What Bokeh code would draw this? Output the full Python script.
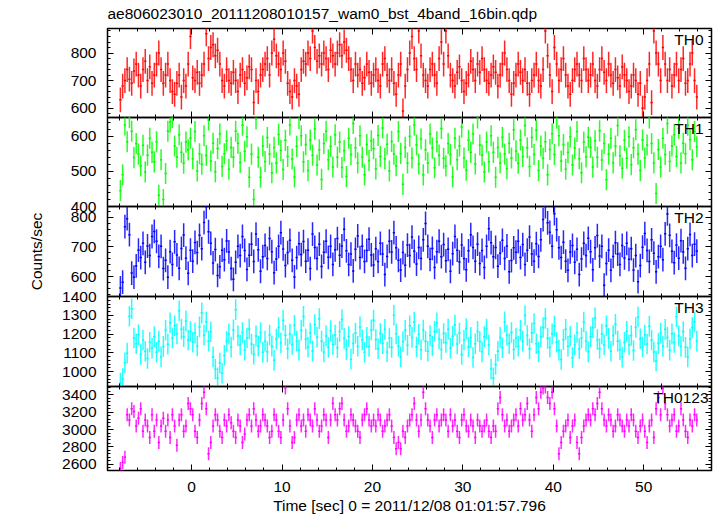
import numpy as np
from bokeh.plotting import figure
from bokeh.layouts import column
from bokeh.models import (LinearAxis, SingleIntervalTicker, Range1d, Label,
                          ColumnDataSource, CustomLabelingPolicy)
from bokeh.embed import file_html
from bokeh.resources import INLINE

title_text = "ae806023010_20111208010157_wam0_bst_4band_16bin.qdp"
x_label = "Time [sec] 0 = 2011/12/08 01:01:57.796"
y_label = "Counts/sec"
band_names = ["TH0", "TH1", "TH2", "TH3", "TH0123"]

t_start = -8.0      # start of first bin [s]
bin_width = 0.25    # bin width [s]

th0 = [
    630, 680, 700, 740, 705, 690, 735, 760, 720, 680, 740, 770, 700, 750, 690, 720,
    760, 800, 740, 690, 720, 760, 700, 660, 650, 690, 720, 640, 700, 680, 760, 860,
    710, 700, 730, 690, 720, 760, 870, 780, 820, 830, 790, 810, 760, 700, 680, 740,
    700, 690, 730, 700, 660, 720, 740, 690, 710, 750, 740, 620, 700, 660, 720, 740,
    760, 780, 720, 800, 850, 790, 760, 740, 800, 770, 690, 660, 640, 700, 680, 650,
    740, 770, 760, 800, 780, 880, 820, 770, 790, 760, 800, 780, 740, 810, 790, 760,
    800, 830, 790, 840, 810, 780, 740, 700, 760, 720, 740, 690, 710, 760, 730, 690,
    720, 740, 700, 680, 760, 780, 720, 700, 740, 690, 650, 720, 760, 590, 680, 740,
    800, 860, 780, 740, 880, 790, 720, 700, 680, 740, 760, 720, 690, 780, 840, 760,
    880, 790, 720, 700, 680, 730, 750, 700, 660, 690, 720, 770, 740, 700, 760, 730,
    780, 740, 700, 690, 720, 750, 730, 680, 720, 760, 800, 740, 700, 650, 690, 720,
    760, 730, 700, 740, 690, 650, 700, 720, 760, 700, 680, 740, 880, 790, 720, 660,
    820, 760, 700, 740, 780, 720, 680, 650, 700, 740, 760, 720, 700, 780, 740, 700,
    720, 760, 700, 680, 740, 780, 730, 700, 760, 720, 690, 740, 710, 680, 750, 720,
    700, 660, 680, 720, 700, 650, 690, 600, 640, 700, 760, 620, 880, 800, 760, 700,
    820, 760, 700, 740, 680, 720, 760, 700, 740, 780, 690, 700, 760, 800, 700, 640,
]
th1 = [
    445, 490, 632, 584, 653, 614, 539, 579, 549, 515, 574, 498, 546, 594, 554, 527,
    584, 432, 533, 420, 494, 614, 640, 653, 572, 540, 604, 554, 523, 583, 561, 594,
    536, 613, 501, 550, 520, 601, 545, 646, 529, 580, 499, 565, 606, 514, 550, 587,
    506, 568, 540, 614, 580, 525, 631, 557, 598, 483, 549, 420, 649, 540, 483, 572,
    528, 596, 549, 496, 568, 524, 605, 559, 505, 588, 542, 632, 535, 484, 571, 650,
    601, 527, 576, 502, 589, 546, 620, 518, 561, 477, 579, 614, 533, 571, 512, 604,
    540, 583, 511, 559, 485, 594, 548, 636, 567, 524, 601, 540, 490, 576, 531, 587,
    564, 507, 602, 542, 623, 536, 577, 501, 585, 549, 516, 613, 551, 463, 568, 524,
    600, 538, 632, 575, 521, 592, 490, 561, 524, 606, 566, 510, 584, 546, 622, 537,
    515, 579, 548, 484, 594, 533, 572, 626, 538, 503, 588, 554, 606, 521, 652, 575,
    546, 498, 583, 527, 601, 554, 483, 568, 524, 597, 549, 507, 580, 538, 618, 558,
    523, 589, 542, 630, 567, 514, 596, 548, 617, 502, 572, 537, 584, 490, 562, 607,
    548, 651, 601, 529, 576, 506, 554, 598, 518, 566, 613, 536, 496, 583, 541, 597,
    568, 512, 587, 540, 615, 532, 579, 476, 549, 594, 524, 572, 630, 544, 509, 588,
    537, 598, 519, 567, 618, 549, 502, 589, 538, 575, 652, 579, 524, 437, 562, 512,
    594, 548, 636, 528, 572, 604, 542, 622, 524, 580, 550, 631, 590, 533, 613, 570,
]
th2 = [
    562, 581, 768, 795, 741, 612, 598, 636, 689, 664, 712, 648, 703, 671, 735, 752,
    719, 668, 702, 627, 655, 598, 684, 641, 717, 673, 628, 695, 740, 662, 611, 689,
    652, 715, 681, 739, 694, 782, 835, 751, 712, 646, 691, 604, 633, 689, 657, 720,
    683, 627, 591, 648, 702, 671, 735, 688, 624, 672, 709, 651, 743, 690, 618, 667,
    705, 661, 728, 684, 613, 659, 702, 748, 693, 637, 681, 722, 655, 599, 664, 711,
    674, 718, 652, 689, 627, 743, 698, 661, 709, 634, 682, 719, 665, 702, 641, 690,
    728, 672, 703, 759, 687, 641, 676, 619, 692, 737, 664, 702, 651, 688, 726, 673,
    639, 694, 651, 712, 676, 607, 668, 719, 683, 748, 697, 655, 622, 681, 638, 706,
    671, 733, 685, 642, 698, 661, 724, 779, 702, 658, 695, 631, 684, 719, 667, 708,
    653, 692, 618, 677, 735, 689, 649, 706, 661, 623, 687, 741, 698, 652, 709, 644,
    688, 631, 702, 761, 714, 667, 698, 635, 679, 722, 661, 703, 616, 654, 697, 682,
    719, 664, 708, 641, 689, 733, 676, 652, 711, 668, 724, 792, 836, 781, 749, 702,
    812, 758, 697, 664, 716, 652, 621, 683, 705, 648, 692, 607, 659, 712, 671, 729,
    684, 623, 697, 738, 669, 702, 571, 644, 689, 621, 668, 714, 676, 641, 705, 663,
    712, 658, 694, 622, 671, 583, 637, 699, 745, 688, 651, 724, 679, 616, 667, 702,
    657, 744, 811, 739, 685, 647, 706, 662, 721, 683, 628, 694, 742, 671, 709, 686,
]
th3 = [
    938, 962, 1047, 1098, 1295, 1335, 1179, 1148, 1196, 1091, 1168, 1108, 1070, 1156, 1125, 1186,
    1103, 1162, 1078, 1134, 1220, 1146, 1260, 1179, 1244, 1201, 1324, 1226, 1186, 1270, 1168, 1214,
    1156, 1205, 1136, 1238, 1313, 1194, 1265, 1162, 1212, 1078, 1012, 966, 1045, 991, 1086, 1161,
    1201, 1130, 1222, 1330, 1190, 1142, 1208, 1114, 1179, 1227, 1147, 1092, 1190, 1135, 1208, 1103,
    1162, 1105, 1195, 1135, 1060, 1173, 1235, 1153, 1273, 1194, 1121, 1200, 1144, 1247, 1162, 1114,
    1220, 1294, 1173, 1130, 1205, 1109, 1251, 1183, 1282, 1162, 1104, 1190, 1129, 1218, 1144, 1195,
    1127, 1214, 1277, 1177, 1117, 1187, 1066, 1149, 1205, 1135, 1238, 1169, 1103, 1183, 1134, 1222,
    1273, 1170, 1122, 1203, 1149, 1225, 1104, 1179, 1129, 1300, 1201, 1135, 1078, 1160, 1220, 1140,
    1244, 1182, 1264, 1131, 1199, 1116, 1221, 1161, 1108, 1192, 1136, 1214, 1260, 1174, 1118, 1203,
    1155, 1226, 1125, 1188, 1248, 1147, 1205, 1091, 1168, 1229, 1131, 1182, 1075, 1148, 1214, 1160,
    1105, 1186, 1227, 1142, 1013, 966, 1038, 1108, 1182, 1127, 1265, 1194, 1149, 1208, 1118, 1179,
    1135, 1220, 1162, 1299, 1192, 1121, 1207, 1256, 1148, 1104, 1186, 1235, 1283, 1177, 1130, 1201,
    1242, 1156, 1114, 1064, 1170, 1225, 1135, 1188, 1074, 1142, 1208, 1122, 1179, 1264, 1162, 1105,
    1186, 1233, 1286, 1170, 1123, 1200, 1142, 1244, 1177, 1108, 1192, 1252, 1162, 1117, 1077, 1156,
    1214, 1142, 1192, 1112, 1235, 1291, 1175, 1131, 1195, 1147, 1242, 1168, 1104, 1056, 1149, 1205,
    1135, 1225, 1182, 1114, 1201, 1155, 1292, 1190, 1134, 1213, 1129, 1078, 1174, 1235, 1264, 1162,
]
th0123 = [
    2550, 2620, 2680, 3170, 3110, 3240, 3210, 3040, 3130, 3240, 2980, 3110, 3040, 2910, 3170, 2980,
    3110, 2850, 3040, 3130, 2980, 3110, 2910, 3170, 3040, 2820, 3110, 3170, 2980, 3040, 3300, 3240,
    3170, 2980, 2910, 3110, 3300, 3430, 3240, 2720, 2850, 3040, 3170, 3110, 2980, 2910, 3110, 3040,
    3170, 3080, 2980, 2910, 3110, 3040, 2850, 2950, 3110, 3170, 3040, 3240, 3110, 2980, 3040, 3170,
    3110, 3040, 2910, 2980, 3170, 3110, 2980, 2910, 3110, 3480, 3240, 3040, 2850, 2910, 3110, 3170,
    3040, 3110, 2980, 3170, 3110, 3040, 3240, 3110, 2980, 3040, 3170, 3110, 2910, 3110, 3300, 3170,
    3110, 3240, 3300, 3110, 2980, 3040, 3170, 3110, 3040, 2980, 2910, 3110, 3170, 3240, 3110, 3040,
    3110, 3040, 3170, 3110, 2980, 3040, 3110, 3170, 3040, 2910, 2780, 2850, 2780, 2980, 2910, 3040,
    3110, 3170, 3300, 3110, 2980, 3110, 3430, 3240, 3110, 3040, 2910, 3110, 3170, 3040, 3110, 3170,
    3110, 2980, 3170, 3040, 3110, 2980, 2910, 3110, 3170, 3040, 2980, 3110, 3040, 2910, 3110, 3040,
    2980, 3040, 3110, 2980, 2910, 3040, 2980, 3240, 3370, 3170, 3040, 3110, 2980, 3040, 3110, 3170,
    3040, 3240, 3110, 3170, 3300, 3110, 2980, 3170, 3370, 3240, 3430, 3480, 3490, 3370, 3300, 3430,
    3240, 3040, 2720, 2850, 2980, 3040, 3110, 2910, 3040, 3110, 2850, 2720, 2910, 3040, 3110, 3170,
    3110, 3240, 3170, 3300, 3430, 3240, 3110, 3040, 3170, 3110, 2980, 3040, 3170, 3110, 3040, 2980,
    3110, 3040, 3170, 3110, 2980, 2910, 3040, 3110, 2980, 2850, 3040, 3110, 2910, 3240, 3370, 3170,
    3480, 3300, 3170, 3040, 3110, 3170, 2980, 3040, 3240, 3110, 2980, 2910, 3110, 3040, 3170, 3110,
]
# typical half-length of the error bars (counts/sec)
err_half = [45, 30, 40, 55, 75]

series = [th0, th1, th2, th3, th0123]
x_lo, x_hi = -9.3, 57.5
y_ranges = [(566, 889), (400, 653), (533, 836), (920, 1400), (2528, 3497)]
y_steps = [100, 100, 100, 100, 200]
colors = ["#ff0000", "#00ff00", "#0000ff", "#00ffff", "#ff00ff"]
label_dx = [-8, -8, -8, -8, -3]

FONT = "Liberation Sans"
FS = "15.5px"
frame_h = [90, 89, 90, 90, 90]
PAD = 10          # spare border between stacked panels (overlapped)
TOP0 = 27         # space for the title above the first panel
BOTTOM = 40       # space for the time axis below the last panel

hide_labels = CustomLabelingPolicy(code="""
for (const i of indices)
    indices.unset(i)
""")


def style_axis(ax, show_labels):
    ax.axis_line_color = None
    ax.major_tick_in = 6
    ax.major_tick_out = 0
    ax.minor_tick_in = 3
    ax.minor_tick_out = 0
    ax.major_tick_line_color = "black"
    ax.minor_tick_line_color = "black"
    ax.major_tick_line_width = 1
    ax.minor_tick_line_width = 1
    ax.major_label_text_font = FONT
    ax.major_label_text_color = "black"
    if show_labels:
        ax.major_label_text_font_size = FS
    else:
        ax.major_label_text_font_size = "1px"
        ax.major_label_standoff = 0
        ax.major_label_policy = hide_labels


panels = []
n = len(series)
for i in range(n):
    vals = np.asarray(series[i], dtype=float)
    t = t_start + bin_width * (np.arange(len(vals)) + 0.5)
    src = ColumnDataSource(dict(t=t, y=vals, x0=t - bin_width / 2, x1=t + bin_width / 2,
                                lo=vals - err_half[i], hi=vals + err_half[i]))
    b_top = TOP0 if i == 0 else PAD
    b_bot = BOTTOM if i == n - 1 else PAD
    p = figure(width=717, height=b_top + frame_h[i] + b_bot,
               x_range=Range1d(x_lo, x_hi), y_range=Range1d(*y_ranges[i]),
               output_backend="svg", toolbar_location=None,
               x_axis_location=None, y_axis_location=None,
               min_border_left=107, min_border_right=6,
               min_border_top=b_top, min_border_bottom=b_bot,
               margin=(0 if i == 0 else -2 * PAD, 0, 0, 0))
    p.background_fill_color = None
    p.border_fill_color = None
    p.outline_line_color = "black"
    p.outline_line_width = 1.5
    p.xgrid.visible = False
    p.ygrid.visible = False

    xt = SingleIntervalTicker(interval=10, num_minor_ticks=5)
    yt = SingleIntervalTicker(interval=y_steps[i], num_minor_ticks=5)

    left = LinearAxis(ticker=yt)
    style_axis(left, True)
    left.major_label_standoff = 11
    right = LinearAxis(ticker=yt)
    style_axis(right, False)
    top = LinearAxis(ticker=xt)
    style_axis(top, False)
    bottom = LinearAxis(ticker=xt)
    style_axis(bottom, i == n - 1)
    p.add_layout(left, "left")
    p.add_layout(right, "right")
    p.add_layout(top, "above")
    p.add_layout(bottom, "below")

    if i == n - 1:
        bottom.major_label_standoff = 11
        bottom.axis_label = x_label
        bottom.axis_label_text_font = FONT
        bottom.axis_label_text_font_size = FS
        bottom.axis_label_text_font_style = "normal"
        bottom.axis_label_text_color = "black"
        bottom.axis_label_standoff = 2
    if i == 2:
        left.axis_label = y_label
        left.axis_label_text_font = FONT
        left.axis_label_text_font_size = FS
        left.axis_label_text_font_style = "normal"
        left.axis_label_text_color = "black"
        left.axis_label_standoff = 23

    if i == 0:
        p.title.text = title_text
        p.title.text_font = FONT
        p.title.text_font_size = FS
        p.title.text_font_style = "normal"
        p.title.text_color = "black"
        p.title.align = "left"
        p.title.offset = 0
        p.title.standoff = 5

    c = colors[i]
    p.segment(x0="x0", y0="y", x1="x1", y1="y", source=src, line_color=c, line_width=1.5)
    p.segment(x0="t", y0="lo", x1="t", y1="hi", source=src, line_color=c, line_width=1.5,
              line_alpha=0.85)

    p.add_layout(Label(x=x_hi, y=y_ranges[i][1], x_offset=label_dx[i], y_offset=-2,
                       text=band_names[i], text_align="right", text_baseline="top",
                       text_font=FONT, text_font_size=FS, text_color="black"))
    panels.append(p)

layout = column(*panels, spacing=0)
open("out.html", "w").write(file_html(layout, INLINE))
